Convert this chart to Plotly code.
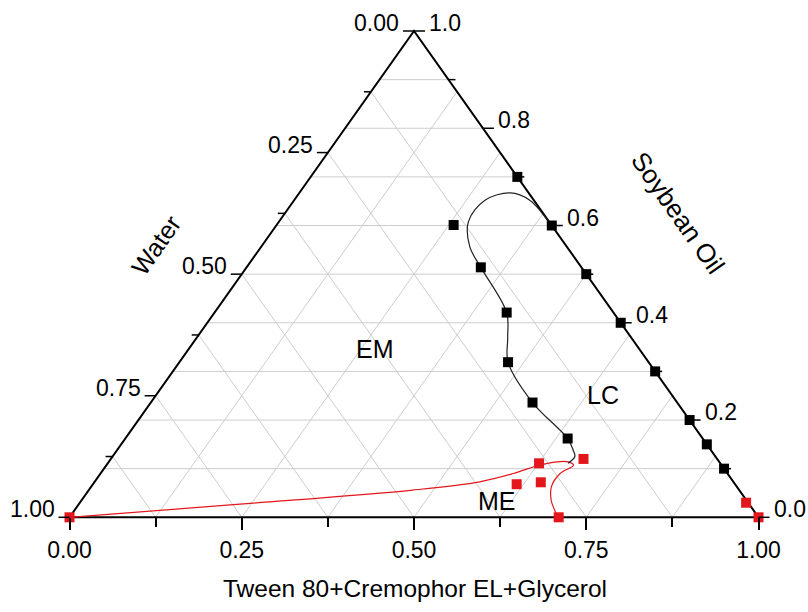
import plotly.graph_objects as go

# ---------------- data (ternary fractions) ----------------
# S = Soybean Oil, T = Tween 80+Cremophor EL+Glycerol, Water = 1 - S - T
black_edge_S = [0.70, 0.60, 0.50, 0.40, 0.30, 0.20, 0.15, 0.10]
black_edge_T = [0.30, 0.40, 0.50, 0.60, 0.70, 0.80, 0.85, 0.90]
black_in_S = [0.601, 0.514, 0.421, 0.319, 0.236, 0.162]
black_in_T = [0.257, 0.340, 0.424, 0.477, 0.554, 0.642]
red_S = [0.000, 0.111, 0.120, 0.068, 0.072, 0.000, 0.030, 0.000]
red_T = [0.000, 0.626, 0.686, 0.615, 0.648, 0.710, 0.967, 1.000]

# LC boundary (black curve)
lc_S = [0.599, 0.652, 0.667, 0.652, 0.608, 0.556, 0.514, 0.421, 0.370, 0.319, 0.236, 0.162, 0.138, 0.125, 0.111]
lc_T = [0.400, 0.342, 0.306, 0.277, 0.275, 0.303, 0.340, 0.424, 0.451, 0.477, 0.554, 0.642, 0.662, 0.671, 0.668]
# ME boundary (red curve)
me_S = [0.000, 0.027, 0.056, 0.073, 0.090, 0.107, 0.114, 0.114, 0.107, 0.090, 0.063, 0.036, 0.012, 0.000]
me_T = [0.000, 0.234, 0.470, 0.559, 0.599, 0.628, 0.650, 0.667, 0.678, 0.667, 0.668, 0.681, 0.699, 0.710]

bottom_ticks = [0.0, 0.25, 0.5, 0.75, 1.0]
bottom_labels = ["0.00", "0.25", "0.50", "0.75", "1.00"]
bottom_minor = [0.125, 0.375, 0.625, 0.875]
left_ticks = [0.0, 0.25, 0.5, 0.75, 1.0]          # Water
left_labels = ["0.00", "0.25", "0.50", "0.75", "1.00"]
left_minor = [0.125, 0.375, 0.625, 0.875]
right_ticks = [0.0, 0.2, 0.4, 0.6, 0.8, 1.0]      # Soybean Oil
right_labels = ["0.0", "0.2", "0.4", "0.6", "0.8", "1.0"]
right_minor = [0.1, 0.3, 0.5, 0.7, 0.9]
grid_TW = [0.125, 0.25, 0.375, 0.5, 0.625, 0.75, 0.875]
grid_S = [0.1, 0.2, 0.3, 0.4, 0.5, 0.6, 0.7, 0.8, 0.9]

region_labels = ["EM", "LC", "ME"]
region_S = [0.346, 0.252, 0.034]
region_T = [0.270, 0.649, 0.604]

FONT = "Arial, 'Liberation Sans', sans-serif"
RED = "#e3161b"
GRID = "#cdcdcd"
TICK_FS = 23

def xy(S, T):
    return [t + s / 2 for s, t in zip(S, T)], list(S)

# pixel frame of the triangle inside the 808x612 page
W_PX, H_PX = 808, 612
X0PX, X1PX = 69.5, 758.5
Y0PX, Y1PX = 517.3, 31.0
sx = X1PX - X0PX
sy = Y0PX - Y1PX
xrange_ = [-X0PX / sx, (W_PX - X0PX) / sx]
yrange_ = [-(H_PX - Y0PX) / sy, 1 + Y1PX / sy]

fig = go.Figure()

# grid
gx, gy = [], []
for t in grid_TW:  # constant Tween
    (a, b) = xy([0, 1 - t], [t, t])
    gx += a + [None]; gy += b + [None]
for w in grid_TW:  # constant Water
    (a, b) = xy([0, 1 - w], [1 - w, 0])
    gx += a + [None]; gy += b + [None]
for s in grid_S:  # constant Soybean oil
    (a, b) = xy([s, s], [0, 1 - s])
    gx += a + [None]; gy += b + [None]
fig.add_trace(go.Scatter(x=gx, y=gy, mode="lines", line=dict(color=GRID, width=1),
                         hoverinfo="skip", showlegend=False))

# triangle frame
tx, ty = xy([0, 0, 1, 0], [0, 1, 0, 0])
fig.add_trace(go.Scatter(x=tx, y=ty, mode="lines", line=dict(color="black", width=2),
                         hoverinfo="skip", showlegend=False))

# boundary curves
cx, cy = xy(me_S, me_T)
fig.add_trace(go.Scatter(x=cx, y=cy, mode="lines", line=dict(color=RED, width=1.2, shape="spline", smoothing=1),
                         hoverinfo="skip", showlegend=False))
cx, cy = xy(lc_S, lc_T)
fig.add_trace(go.Scatter(x=cx, y=cy, mode="lines", line=dict(color="#222222", width=1.2, shape="spline", smoothing=1),
                         hoverinfo="skip", showlegend=False))

# markers
mx, my = xy(black_edge_S + black_in_S, black_edge_T + black_in_T)
fig.add_trace(go.Scatter(x=mx, y=my, mode="markers", marker=dict(symbol="square", size=10, color="black"),
                         showlegend=False))
mx, my = xy(red_S, red_T)
fig.add_trace(go.Scatter(x=mx, y=my, mode="markers", marker=dict(symbol="square", size=10, color=RED),
                         cliponaxis=False, showlegend=False))

shapes, annos = [], []

def tick(x, y, dx, dy, w=1.5):
    shapes.append(dict(type="line", xref="x", yref="y", xsizemode="pixel", ysizemode="pixel",
                       xanchor=x, yanchor=y, x0=0, x1=dx, y0=0, y1=dy,
                       line=dict(color="black", width=w)))

# left (Water) axis
for w, lab in zip(left_ticks, left_labels):
    x, y = (1 - w) / 2, 1 - w
    tick(x, y, -11, 0)
    annos.append(dict(x=x, y=y, xref="x", yref="y", text=lab, showarrow=False,
                      xanchor="right", yanchor="middle", xshift=-13, yshift=8,
                      font=dict(family=FONT, size=TICK_FS, color="black")))
for w in left_minor:
    tick((1 - w) / 2, 1 - w, -7, 0)

# right (Soybean oil) axis
for s, lab in zip(right_ticks, right_labels):
    x, y = 1 - s / 2, s
    tick(x, y, 11, 0)
    annos.append(dict(x=x, y=y, xref="x", yref="y", text=lab, showarrow=False,
                      xanchor="left", yanchor="middle", xshift=13, yshift=8,
                      font=dict(family=FONT, size=TICK_FS, color="black")))
for s in right_minor:
    tick(1 - s / 2, s, 7, 0)

# region labels
rx, ry = xy(region_S, region_T)
for lab, x, y in zip(region_labels, rx, ry):
    annos.append(dict(x=x, y=y, xref="x", yref="y", text=lab, showarrow=False,
                      xanchor="center", yanchor="middle",
                      font=dict(family=FONT, size=25, color="black")))

# axis titles
annos.append(dict(x=156 / W_PX, y=1 - 245 / H_PX, xref="paper", yref="paper", text="Water",
                  showarrow=False, textangle=-55, xanchor="center", yanchor="middle",
                  font=dict(family=FONT, size=25, color="black")))
annos.append(dict(x=678 / W_PX, y=1 - 213 / H_PX, xref="paper", yref="paper", text="Soybean Oil",
                  showarrow=False, textangle=55, xanchor="center", yanchor="middle",
                  font=dict(family=FONT, size=26, color="black")))
annos.append(dict(x=0.5, y=-0.038, xref="x", yref="paper", text="Tween 80+Cremophor EL+Glycerol",
                  showarrow=False, xanchor="center", yanchor="middle", xshift=1,
                  font=dict(family=FONT, size=24.5, color="black")))
annos[-1]["y"] = 1 - 588 / H_PX

fig.update_layout(
    width=W_PX, height=H_PX, autosize=False,
    margin=dict(l=0, r=0, t=0, b=0),
    plot_bgcolor="white", paper_bgcolor="white",
    showlegend=False,
    shapes=shapes, annotations=annos,
    xaxis=dict(range=xrange_, anchor="free", position=(H_PX - Y0PX) / H_PX,
               showline=False, showgrid=False, zeroline=False, automargin=False,
               tickmode="array", tickvals=bottom_ticks, ticktext=bottom_labels,
               ticks="outside", ticklen=12, tickwidth=1.5, tickcolor="black",
               minor=dict(tickvals=bottom_minor, ticks="outside", ticklen=9, tickwidth=1.5,
                          tickcolor="black", showgrid=False),
               tickfont=dict(family=FONT, size=TICK_FS, color="black")),
    yaxis=dict(range=yrange_, visible=False, automargin=False),
)

fig.write_html("out.html")
